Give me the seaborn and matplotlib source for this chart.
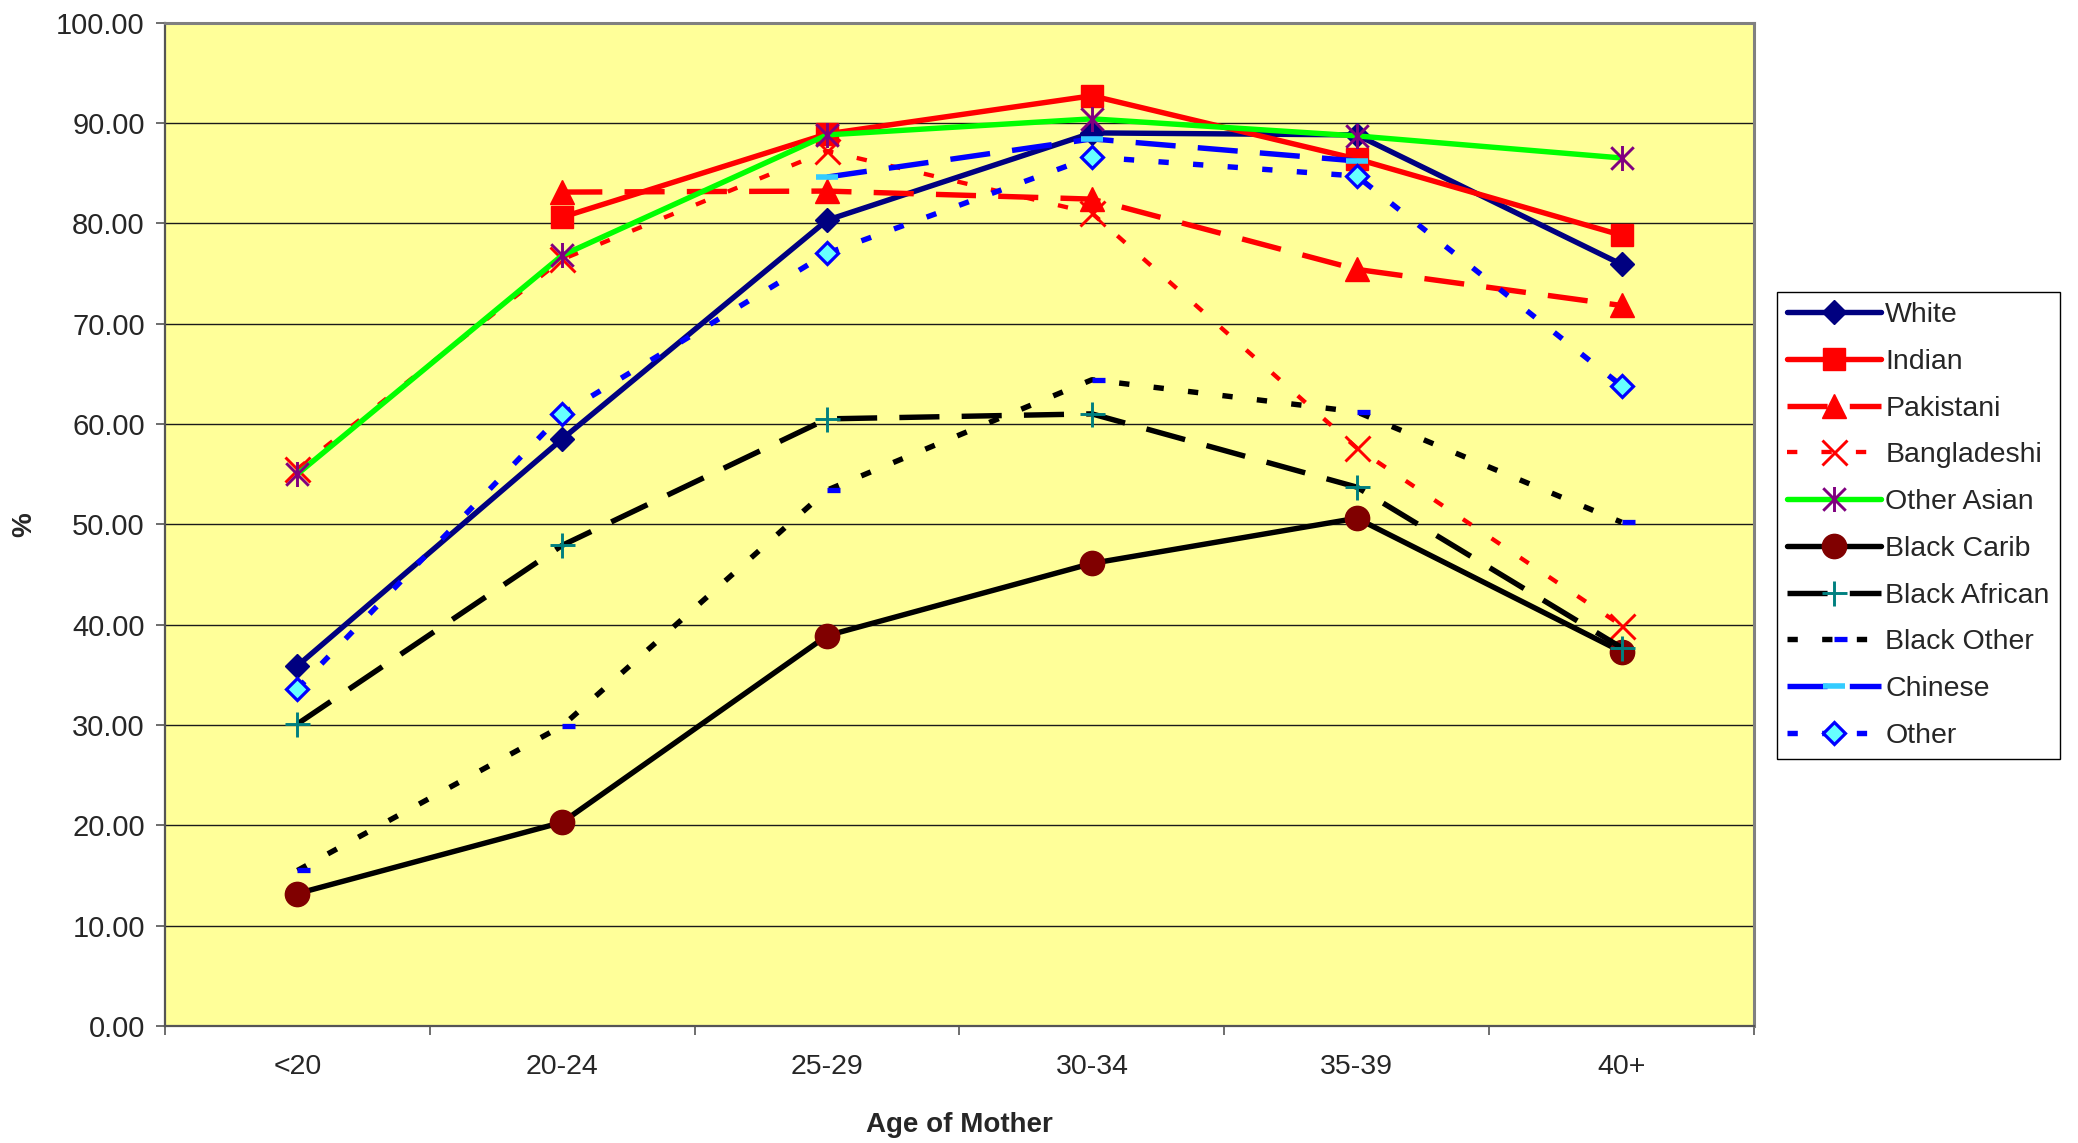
import numpy as np
import pandas as pd
import matplotlib
matplotlib.use("Agg")
import matplotlib.pyplot as plt
from matplotlib.path import Path
from matplotlib.ticker import MultipleLocator, FormatStrFormatter, FixedLocator, NullFormatter
import seaborn as sns

# Age bands of mother
age_groups = ["<20", "20-24", "25-29", "30-34", "35-39", "40+"]

# Percentage by ethnic group for each age band (NaN = no value)
white = [35.9, 58.5, 80.3, 89.0, 88.8, 75.9]
indian = [np.nan, 80.6, 88.9, 92.7, 86.4, 78.8]
pakistani = [np.nan, 83.1, 83.2, 82.4, 75.4, 71.8]
bangladeshi = [55.5, 76.4, 87.2, 81.0, 57.6, 39.9]
other_asian = [55.0, 76.8, 88.8, 90.4, 88.7, 86.5]
black_carib = [13.2, 20.3, 38.9, 46.1, 50.6, 37.3]
black_african = [30.1, 47.9, 60.5, 61.0, 53.7, 37.7]
black_other = [15.5, 29.9, 53.4, 64.4, 61.2, 50.2]
chinese = [np.nan, np.nan, 84.6, 88.4, 86.2, np.nan]
other = [33.6, 61.0, 77.0, 86.6, 84.7, 63.8]

series_names = ["White", "Indian", "Pakistani", "Bangladeshi", "Other Asian",
                "Black Carib", "Black African", "Black Other", "Chinese", "Other"]
series_values = [white, indian, pakistani, bangladeshi, other_asian,
                 black_carib, black_african, black_other, chinese, other]

sns.set_style("white")
plt.rcParams["font.family"] = ["Liberation Sans", "DejaVu Sans"]

# custom markers: Excel-style star (vertical bar + cross) and dash markers
star_marker = Path([(0, -1), (0, 1), (-0.9, -0.9), (0.9, 0.9), (-0.9, 0.9), (0.9, -0.9)],
                   [Path.MOVETO, Path.LINETO, Path.MOVETO, Path.LINETO, Path.MOVETO, Path.LINETO])
right_dash = Path([(0, 0), (1, 0)], [Path.MOVETO, Path.LINETO])

LW = 3.9
LONG = (7.4, 4.1)
SHORT = (1.9, 4.5)

styles = {
    "White": dict(color="#000080", lw=LW, dashes=None, marker="D", ms=12,
                  mfc="#000080", mec="#000080", mew=1),
    "Indian": dict(color="#FF0000", lw=LW, dashes=None, marker="s", ms=16,
                   mfc="#FF0000", mec="#FF0000", mew=1),
    "Pakistani": dict(color="#FF0000", lw=LW, dashes=LONG, marker="^", ms=17.5,
                      mfc="#FF0000", mec="#FF0000", mew=1),
    "Bangladeshi": dict(color="#FF0000", lw=3.1, dashes=(2.4, 5.6), marker="x", ms=18,
                        mfc="none", mec="#FF0000", mew=2.1),
    "Other Asian": dict(color="#00FF00", lw=LW, dashes=None, marker=star_marker, ms=18,
                        mfc="none", mec="#800080", mew=2.1),
    "Black Carib": dict(color="#000000", lw=LW, dashes=None, marker="o", ms=17.5,
                        mfc="#800000", mec="#800000", mew=1),
    "Black African": dict(color="#000000", lw=LW, dashes=LONG, marker="+", ms=18,
                          mfc="none", mec="#008080", mew=2.1),
    "Black Other": dict(color="#000000", lw=LW, dashes=SHORT, marker=right_dash, ms=19,
                        mfc="none", mec="#0000FF", mew=3.8),
    "Chinese": dict(color="#0000FF", lw=LW, dashes=LONG, marker="_", ms=16,
                    mfc="none", mec="#33CCFF", mew=4.0),
    "Other": dict(color="#0000FF", lw=LW, dashes=SHORT, marker="D", ms=11.5,
                  mfc="#66FFFF", mec="#0000FF", mew=2.3),
}

fig = plt.figure(figsize=(20.78, 11.43), dpi=100)
ax = fig.add_axes([165 / 2078, 1 - 1026 / 1143, (1754 - 165) / 2078, (1026 - 22.5) / 1143])
ax.set_facecolor("#FFFF99")

pos = np.arange(len(age_groups))
handles = []
for name, vals in zip(series_names, series_values):
    df = pd.DataFrame({"pos": pos, "pct": vals}).dropna()
    st = styles[name]
    n_before = len(ax.lines)
    sns.lineplot(data=df, x="pos", y="pct", ax=ax, estimator=None, sort=False,
                 color=st["color"], linewidth=st["lw"], marker=st["marker"],
                 markersize=st["ms"], markerfacecolor=st["mfc"],
                 markeredgecolor=st["mec"], markeredgewidth=st["mew"],
                 label=name, legend=False)
    line = ax.lines[n_before]
    line.set_color(st["color"])
    line.set_linewidth(st["lw"])
    if st["dashes"] is not None:
        line.set_dashes(st["dashes"])
        line.set_dash_capstyle("butt")
    line.set_solid_capstyle("round")
    line.set_solid_joinstyle("round")
    line.set_markerfacecolor(st["mfc"])
    line.set_markeredgecolor(st["mec"])
    line.set_markeredgewidth(st["mew"])
    line.set_label(name)
    handles.append(line)

# axes ranges and ticks
ax.set_xlim(-0.5, len(age_groups) - 0.5)
ax.set_ylim(0, 100)
ax.yaxis.set_major_locator(MultipleLocator(10))
ax.yaxis.set_major_formatter(FormatStrFormatter("%.2f"))
ax.xaxis.set_major_locator(FixedLocator(np.arange(-0.5, len(age_groups), 1.0)))
ax.xaxis.set_major_formatter(NullFormatter())
ax.xaxis.set_minor_locator(FixedLocator(pos))
ax.set_xticks(pos, labels=age_groups, minor=True)
ax.tick_params(axis="x", which="major", direction="out", length=6.5, width=1.2,
               color="#555555", bottom=True)
ax.tick_params(axis="x", which="minor", length=0, pad=20, labelsize=20.5)
ax.tick_params(axis="y", which="major", direction="out", length=6.5, width=1.2,
               color="#555555", left=True, pad=8, labelsize=21)

ax.grid(axis="y", color="#1a1a1a", linewidth=1.0)
ax.grid(axis="x", visible=False)
ax.set_axisbelow(True)

for side in ["left", "bottom"]:
    ax.spines[side].set_color("#555555")
    ax.spines[side].set_linewidth(1.6)
for side in ["top", "right"]:
    ax.spines[side].set_color("#808080")
    ax.spines[side].set_linewidth(2.2)
    ax.spines[side].set_visible(True)

ax.set_xlabel("Age of Mother", fontsize=20, fontweight="bold")
ax.xaxis.label.set_va("center")
ax.xaxis.set_label_coords(0.5, -0.099)
ax.set_ylabel("%", fontsize=20, fontweight="bold")
ax.yaxis.label.set_va("center")
ax.yaxis.set_label_coords(-0.0887, 0.5)

leg = ax.legend(handles=handles, labels=series_names, loc="upper left",
                bbox_to_anchor=(1777 / 2078, 1 - 292 / 1143),
                bbox_transform=fig.transFigure, borderaxespad=0,
                frameon=True, fancybox=False, framealpha=1, edgecolor="black",
                facecolor="white", fontsize=20.5, borderpad=0.35, handlelength=3.3,
                handletextpad=0.15, labelspacing=0.73, numpoints=1)
leg.get_frame().set_linewidth(1.0)

fig.savefig("out.png", dpi=100, facecolor="white")
